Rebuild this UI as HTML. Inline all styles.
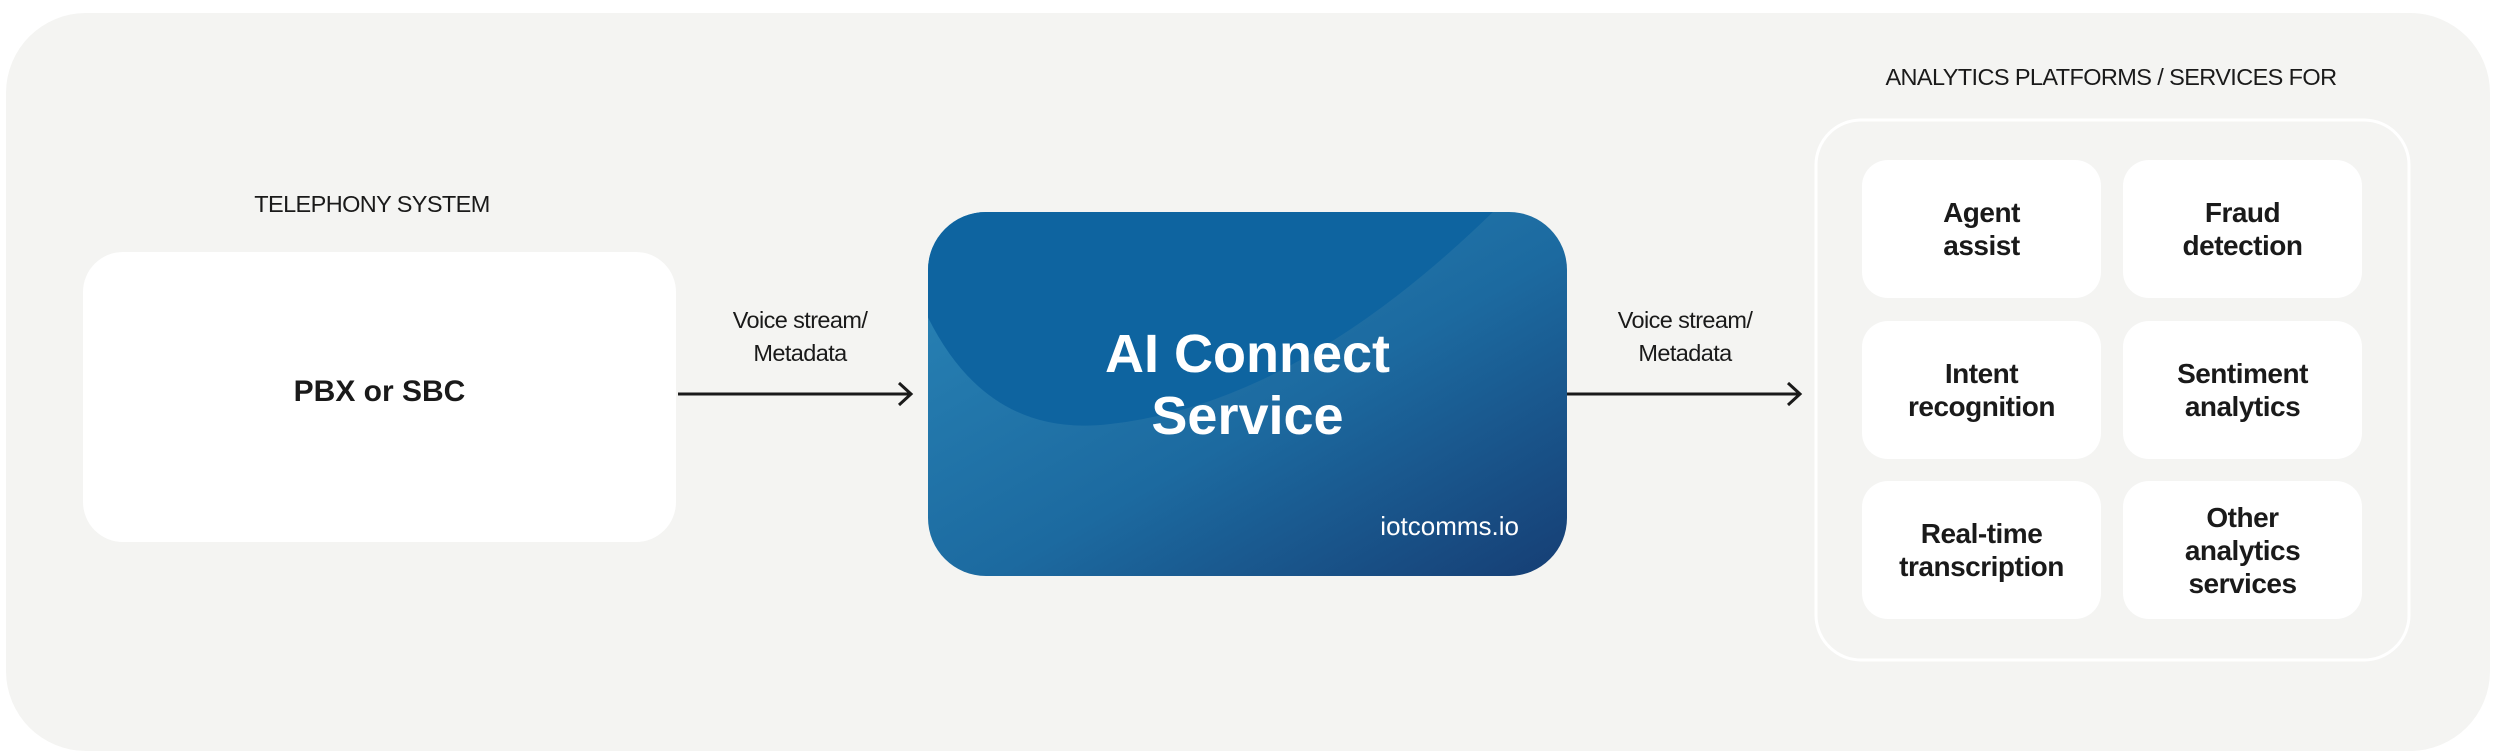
<!DOCTYPE html>
<html><head><meta charset="utf-8"><style>
html,body{margin:0;padding:0;background:#fff;}
body{width:2500px;height:756px;position:relative;overflow:hidden;font-family:"Liberation Sans",sans-serif;color:#1a1a1a;}
.abs{position:absolute;}
.bg{left:6px;top:13px;width:2484px;height:738px;background:#f4f4f2;border-radius:80px;}
.lbl{font-size:23.5px;text-align:center;letter-spacing:-0.6px;}
.box{background:#fff;border-radius:40px;}
.card{background:#fff;border-radius:26px;width:239px;height:138px;display:flex;align-items:center;justify-content:center;text-align:center;font-weight:bold;font-size:28px;line-height:33px;letter-spacing:-0.5px;}
</style></head><body>
<div class="abs bg"></div>
<div class="abs lbl" style="left:222px;top:191px;width:300px;">TELEPHONY SYSTEM</div>
<div class="abs box" style="left:83px;top:252px;width:593px;height:290px;"></div>
<div class="abs" style="left:83px;top:375px;width:593px;text-align:center;font-weight:bold;font-size:30px;">PBX or SBC</div>
<div class="abs lbl" style="left:680px;top:304px;width:240px;line-height:33px;">Voice stream/<br>Metadata</div>
<div class="abs lbl" style="left:1565px;top:304px;width:240px;line-height:33px;">Voice stream/<br>Metadata</div>
<svg class="abs" style="left:0;top:0" width="2500" height="756">
<defs>
<linearGradient id="g" x1="0" y1="0" x2="1" y2="1">
<stop offset="0" stop-color="#2a86b8"/><stop offset="0.55" stop-color="#1c6aa0"/><stop offset="1" stop-color="#163e74"/>
</linearGradient>
<clipPath id="c"><rect x="928" y="212" width="639" height="364" rx="58"/></clipPath>
</defs>
<rect x="928" y="212" width="639" height="364" rx="58" fill="url(#g)"/>
<path clip-path="url(#c)" d="M920,200 L920,300 Q980,440 1110,424 Q1300,403 1500,205 Z" fill="#0e64a0"/>
<line x1="678" y1="394" x2="909" y2="394" stroke="#1a1a1a" stroke-width="3"/>
<polyline points="899,383 911,394 899,405" fill="none" stroke="#1a1a1a" stroke-width="3"/>
<line x1="1567" y1="394" x2="1798" y2="394" stroke="#1a1a1a" stroke-width="3"/>
<polyline points="1788,383 1800,394 1788,405" fill="none" stroke="#1a1a1a" stroke-width="3"/>
<rect x="1816" y="120" width="593" height="540" rx="45" fill="none" stroke="#fff" stroke-width="3"/>
</svg>
<div class="abs" style="left:928px;top:323px;width:639px;text-align:center;color:#fff;font-weight:bold;font-size:54px;line-height:62px;">AI Connect<br>Service</div>
<div class="abs" style="left:1300px;top:511px;width:219px;text-align:right;color:#fff;font-size:26px;">iotcomms.io</div>
<div class="abs lbl" style="left:1861px;top:64px;width:500px;">ANALYTICS PLATFORMS / SERVICES FOR</div>
<div class="abs card" style="left:1862px;top:160px;">Agent<br>assist</div>
<div class="abs card" style="left:2123px;top:160px;">Fraud<br>detection</div>
<div class="abs card" style="left:1862px;top:321px;">Intent<br>recognition</div>
<div class="abs card" style="left:2123px;top:321px;">Sentiment<br>analytics</div>
<div class="abs card" style="left:1862px;top:481px;">Real-time<br>transcription</div>
<div class="abs card" style="left:2123px;top:481px;">Other<br>analytics<br>services</div>
</body></html>
